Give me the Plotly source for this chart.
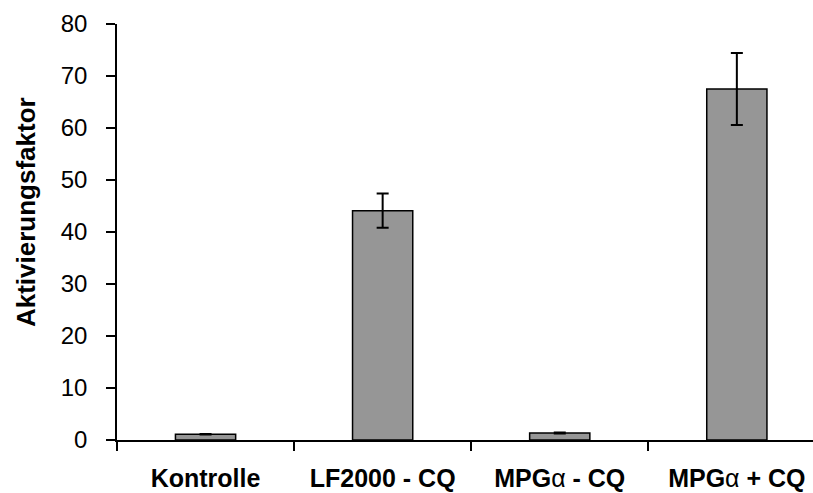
import plotly.graph_objects as go

categories = ["Kontrolle", "LF2000 - CQ", "MPG<span style='font-weight:normal'>α</span> - CQ", "MPG<span style='font-weight:normal'>α</span> + CQ"]
values = [1.1, 44.1, 1.35, 67.5]
errors = [0.05, 3.3, 0.08, 6.9]
y_ticks = [0, 10, 20, 30, 40, 50, 60, 70, 80]

fig = go.Figure()
fig.add_trace(go.Bar(
    x=categories, y=values, width=0.34,
    marker=dict(color="#969696", line=dict(color="black", width=1.5)),
    error_y=dict(type="data", array=errors, visible=True, color="black", thickness=2, width=6),
))

fig.update_layout(
    width=813, height=493,
    margin=dict(l=117, r=0, t=24, b=53),
    plot_bgcolor="white", paper_bgcolor="white",
    showlegend=False,
    font=dict(family="Liberation Sans, Arial", color="black"),
    annotations=[dict(
        text="<b>Aktivierungsfaktor</b>", textangle=-90,
        xref="paper", yref="paper", x=(26 - 117) / 696, y=0.548,
        xanchor="center", yanchor="middle", showarrow=False,
        font=dict(size=26, color="black", family="Liberation Sans, Arial"),
    )],
)
fig.update_xaxes(
    range=[-0.5, 3.43], showline=True, linecolor="black", linewidth=1.5,
    ticks="outside", tickson="boundaries", ticklen=9, tickwidth=1.5, tickcolor="black",
    tickfont=dict(size=25, family="Liberation Sans, Arial", weight="bold", color="black"),
    ticklabelstandoff=15, showgrid=False,
)
fig.update_yaxes(
    range=[0, 80], tickvals=y_ticks, showline=True, linecolor="black", linewidth=1.5,
    ticks="outside", ticklen=9, tickwidth=1.5, tickcolor="black",
    tickfont=dict(size=24, family="Liberation Sans, Arial", color="black"),
    ticklabelstandoff=14, showgrid=False, zeroline=False,
)

fig.write_html("out.html")
